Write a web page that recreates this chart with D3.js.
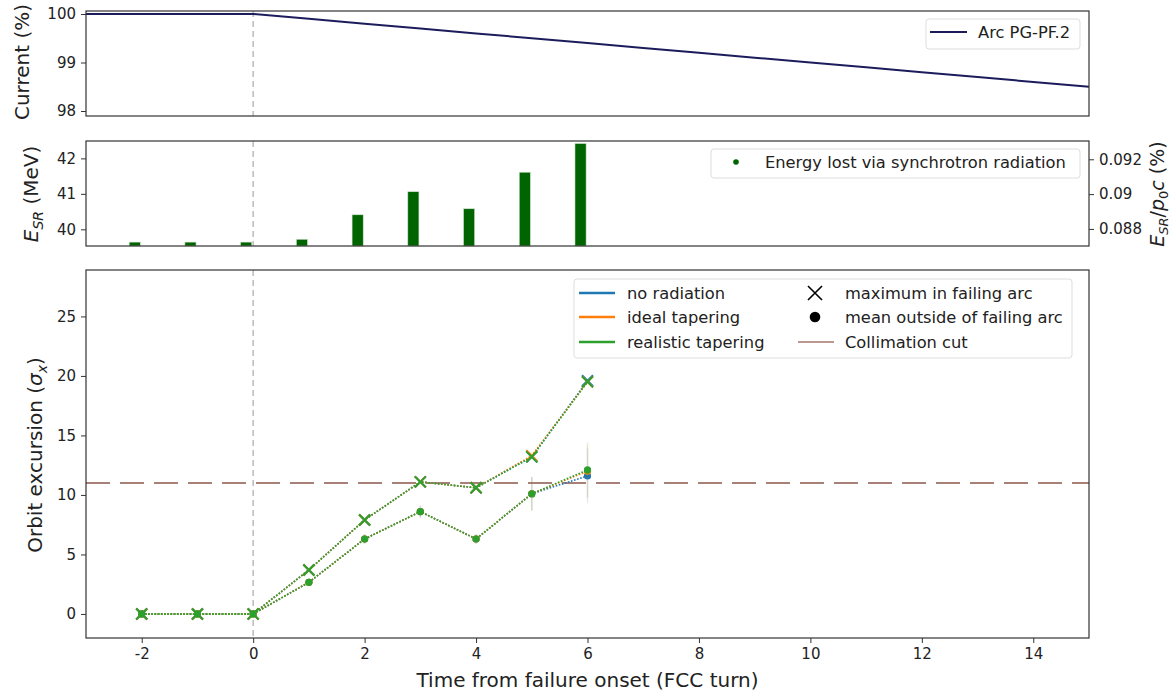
<!DOCTYPE html>
<html>
<head>
<meta charset="utf-8">
<script src="https://cdn.jsdelivr.net/npm/d3@7"></script>
<style>
  body { margin: 0; background: #fff; }
  svg { font-family: "DejaVu Sans", sans-serif; }
  .tick text { fill: #222; }
</style>
</head>
<body>
<svg id="chart" width="1176" height="693"></svg>
<script>
// beam current in the failing arc (%)
const currentTurns = [-3, -2, -1, 0, 1, 2, 3, 4, 5, 6, 7, 8, 9, 10, 11, 12, 13, 14, 15];
const currentValues = [100, 100, 100, 100, 99.9, 99.8, 99.7, 99.6, 99.5, 99.4, 99.3, 99.2, 99.1, 99.0, 98.9, 98.8, 98.7, 98.6, 98.5];

// energy lost via synchrotron radiation (MeV)
const turns = [-2, -1, 0, 1, 2, 3, 4, 5, 6];
const energyLost = [39.64, 39.64, 39.64, 39.72, 40.41, 41.06, 40.58, 41.61, 42.42];

// orbit excursion (sigma_x)
const maxNoRad = [0, 0, 0, 3.7, 7.9, 11.1, 10.6, 13.2, 19.6];
const maxIdeal = [0, 0, 0, 3.7, 7.9, 11.1, 10.6, 13.3, 19.5];
const maxReal = [0, 0, 0, 3.7, 7.9, 11.1, 10.6, 13.2, 19.5];
const meanNoRad = [0, 0, 0, 2.66, 6.3, 8.6, 6.3, 10.1, 11.6];
const meanIdeal = [0, 0, 0, 2.66, 6.3, 8.6, 6.3, 10.1, 12.0];
const meanReal = [0, 0, 0, 2.66, 6.3, 8.6, 6.3, 10.1, 12.1];
const meanErr = [0, 0, 0, 0.3, 0.4, 0.5, 0.4, 1.4, 2.3];
const collimationCut = 11;

const xTicks = [-2, 0, 2, 4, 6, 8, 10, 12, 14];

const svg = d3.select("#chart");
const left = 86, right = 1089;
const fs = 15;      // tick labels
const legFs = 16.3; // legend text
const labFs = 20;   // axis labels

const x = d3.scaleLinear().domain([-3, 15]).range([left, right]);
const plain = d => String(d);

function frame(top, bottom) {
    svg.append("rect")
        .attr("x", left).attr("y", top)
        .attr("width", right - left).attr("height", bottom - top)
        .attr("fill", "none").attr("stroke", "#333").attr("stroke-width", 1.2);
}

function onsetLine(top, bottom) {
    svg.append("line")
        .attr("x1", x(0)).attr("x2", x(0))
        .attr("y1", top).attr("y2", bottom)
        .attr("stroke", "#bbb").attr("stroke-width", 1.5)
        .attr("stroke-dasharray", "6,4");
}

function yAxis(scale, ticks, fmt, side) {
    const ax = side === "right" ? d3.axisRight(scale) : d3.axisLeft(scale);
    const g = svg.append("g")
        .attr("transform", "translate(" + (side === "right" ? right : left) + ",0)")
        .call(ax.tickValues(ticks).tickFormat(fmt).tickSizeOuter(0).tickSize(5).tickPadding(5));
    g.select(".domain").remove();
    g.selectAll(".tick line").attr("stroke", "#333");
    g.selectAll(".tick text").attr("font-size", fs).attr("font-family", "DejaVu Sans");
    return g;
}

// ---------- top panel: current ----------
const yCur = d3.scaleLinear().domain([97.897, 100.062]).range([116, 11]);
onsetLine(11, 116);
svg.append("path")
    .datum(d3.zip(currentTurns, currentValues))
    .attr("fill", "none").attr("stroke", "#1c1c5c").attr("stroke-width", 2)
    .attr("d", d3.line().x(d => x(d[0])).y(d => yCur(d[1])));
frame(11, 116);
yAxis(yCur, [98, 99, 100], plain);
svg.append("text")
    .attr("transform", "translate(29,62) rotate(-90)")
    .attr("text-anchor", "middle").attr("font-size", labFs).attr("fill", "#222")
    .text("Current (%)");

// legend top
svg.append("rect").attr("x", 926).attr("y", 19).attr("width", 154).attr("height", 30)
    .attr("rx", 3).attr("fill", "#fff").attr("stroke", "#ddd");
svg.append("line").attr("x1", 930).attr("x2", 967).attr("y1", 32).attr("y2", 32)
    .attr("stroke", "#1c1c5c").attr("stroke-width", 2);
svg.append("text").attr("x", 978).attr("y", 38).attr("font-size", legFs).attr("fill", "#222")
    .text("Arc PG-PF.2");

// ---------- middle panel: energy lost ----------
const yE = d3.scaleLinear().domain([39.53, 42.49]).range([246, 141]);
const yRel = d3.scaleLinear().domain([0.08702, 0.09305]).range([246, 141]);
const barOffset = -0.125, barWidth = 0.2;
onsetLine(141, 246);
svg.append("g").selectAll("rect")
    .data(d3.zip(turns, energyLost))
    .join("rect")
    .attr("x", d => x(d[0] + barOffset - barWidth / 2))
    .attr("width", x(barWidth) - x(0))
    .attr("y", d => yE(d[1]))
    .attr("height", d => 246 - yE(d[1]))
    .attr("fill", "#006400").attr("stroke", "#cfe6cf").attr("stroke-width", 0.6);
frame(141, 246);
yAxis(yE, [40, 41, 42], plain);
yAxis(yRel, [0.088, 0.09, 0.092], d => String(+d.toFixed(3)), "right");

const eLab = svg.append("text")
    .attr("transform", "translate(38,194) rotate(-90)")
    .attr("text-anchor", "middle").attr("font-size", labFs).attr("fill", "#222");
eLab.append("tspan").attr("font-style", "italic").text("E");
eLab.append("tspan").attr("font-style", "italic").attr("font-size", 14).attr("dy", 5).text("SR");
eLab.append("tspan").attr("dy", -5).text(" (MeV)");

const rLab = svg.append("text")
    .attr("transform", "translate(1164,194) rotate(-90)")
    .attr("text-anchor", "middle").attr("font-size", 19).attr("fill", "#222");
rLab.append("tspan").attr("font-style", "italic").text("E");
rLab.append("tspan").attr("font-style", "italic").attr("font-size", 13).attr("dy", 4).text("SR");
rLab.append("tspan").attr("dy", -4).text("/");
rLab.append("tspan").attr("font-style", "italic").text("p");
rLab.append("tspan").attr("font-size", 13).attr("dy", 4).text("0");
rLab.append("tspan").attr("font-style", "italic").attr("dy", -4).text("c");
rLab.append("tspan").text(" (%)");

// legend middle
svg.append("rect").attr("x", 711).attr("y", 149).attr("width", 369).attr("height", 29)
    .attr("rx", 3).attr("fill", "#fff").attr("stroke", "#ddd");
svg.append("circle").attr("cx", 736).attr("cy", 162).attr("r", 2.8).attr("fill", "#006400");
svg.append("text").attr("x", 765).attr("y", 168).attr("font-size", legFs).attr("fill", "#222")
    .text("Energy lost via synchrotron radiation");

// ---------- bottom panel: orbit excursion ----------
const yO = d3.scaleLinear().domain([-2.02, 28.9]).range([638, 270]);
onsetLine(270, 638);
svg.append("line")
    .attr("x1", left).attr("x2", right)
    .attr("y1", yO(collimationCut)).attr("y2", yO(collimationCut))
    .attr("stroke", "#8c564b").attr("stroke-opacity", 0.75).attr("stroke-width", 2)
    .attr("stroke-dasharray", "24,10");

const series = [
    {color: "#1f77b4", max: maxNoRad, mean: meanNoRad},
    {color: "#ff7f0e", max: maxIdeal, mean: meanIdeal},
    {color: "#2ca02c", max: maxReal, mean: meanReal}
];

const lineGen = d3.line().x(d => x(d[0])).y(d => yO(d[1]));
const xMark = s => "M" + (-s) + "," + (-s) + "L" + s + "," + s + "M" + (-s) + "," + s + "L" + s + "," + (-s);

series.forEach(s => {
    svg.append("g").selectAll("line")
        .data(d3.zip(turns, s.mean, meanErr))
        .join("line")
        .attr("x1", d => x(d[0])).attr("x2", d => x(d[0]))
        .attr("y1", d => yO(d[1] - d[2])).attr("y2", d => yO(d[1] + d[2]))
        .attr("stroke", s.color).attr("stroke-opacity", 0.12).attr("stroke-width", 1.5);

    [s.max, s.mean].forEach(vals => {
        svg.append("path")
            .datum(d3.zip(turns, vals))
            .attr("fill", "none").attr("stroke", s.color).attr("stroke-width", 1.6)
            .attr("stroke-dasharray", "1.6,1.6")
            .attr("d", lineGen);
    });

    svg.append("g").selectAll("path")
        .data(d3.zip(turns, s.max))
        .join("path")
        .attr("transform", d => "translate(" + x(d[0]) + "," + yO(d[1]) + ")")
        .attr("d", xMark(5.5))
        .attr("stroke", s.color).attr("stroke-width", 2).attr("fill", "none");

    svg.append("g").selectAll("circle")
        .data(d3.zip(turns, s.mean))
        .join("circle")
        .attr("cx", d => x(d[0])).attr("cy", d => yO(d[1]))
        .attr("r", 3.6).attr("fill", s.color);
});

frame(270, 638);
yAxis(yO, [0, 5, 10, 15, 20, 25], plain);

const gx = svg.append("g")
    .attr("transform", "translate(0,638)")
    .call(d3.axisBottom(x).tickValues(xTicks).tickFormat(plain).tickSize(5).tickPadding(5).tickSizeOuter(0));
gx.select(".domain").remove();
gx.selectAll(".tick line").attr("stroke", "#333");
gx.selectAll(".tick text").attr("font-size", fs).attr("font-family", "DejaVu Sans");

svg.append("text")
    .attr("x", (left + right) / 2).attr("y", 687)
    .attr("text-anchor", "middle").attr("font-size", labFs).attr("fill", "#222")
    .text("Time from failure onset (FCC turn)");

const oLab = svg.append("text")
    .attr("transform", "translate(42,455) rotate(-90)")
    .attr("text-anchor", "middle").attr("font-size", labFs).attr("fill", "#222");
oLab.append("tspan").text("Orbit excursion (");
oLab.append("tspan").attr("font-style", "italic").text("σ");
oLab.append("tspan").attr("font-style", "italic").attr("font-size", 14).attr("dy", 5).text("x");
oLab.append("tspan").attr("dy", -5).text(")");

// legend bottom
const legItems = [
    {label: "no radiation", kind: "line", color: "#1f77b4"},
    {label: "ideal tapering", kind: "line", color: "#ff7f0e"},
    {label: "realistic tapering", kind: "line", color: "#2ca02c"},
    {label: "maximum in failing arc", kind: "x", color: "#000"},
    {label: "mean outside of failing arc", kind: "dot", color: "#000"},
    {label: "Collimation cut", kind: "line", color: "#8c564b"}
];
const rowY = [293, 317, 342];
svg.append("rect").attr("x", 574).attr("y", 279).attr("width", 498).attr("height", 79)
    .attr("rx", 3).attr("fill", "#fff").attr("stroke", "#ddd");
legItems.forEach((it, i) => {
    const col = Math.floor(i / 3), yy = rowY[i % 3];
    const x0 = col === 0 ? 579 : 798, tx = col === 0 ? 627 : 845;
    if (it.kind === "line") {
        svg.append("line").attr("x1", x0).attr("x2", x0 + 36).attr("y1", yy).attr("y2", yy)
            .attr("stroke", it.color).attr("stroke-width", col === 0 ? 2.5 : 1.5)
            .attr("stroke-opacity", col === 0 ? 1 : 0.8);
    } else if (it.kind === "x") {
        svg.append("path").attr("transform", "translate(" + (x0 + 17) + "," + yy + ")")
            .attr("d", xMark(7)).attr("stroke", it.color).attr("stroke-width", 1.6);
    } else {
        svg.append("circle").attr("cx", x0 + 17).attr("cy", yy).attr("r", 5.3).attr("fill", it.color);
    }
    svg.append("text").attr("x", tx).attr("y", yy + 6).attr("font-size", legFs).attr("fill", "#222")
        .text(it.label);
});
</script>
</body>
</html>
